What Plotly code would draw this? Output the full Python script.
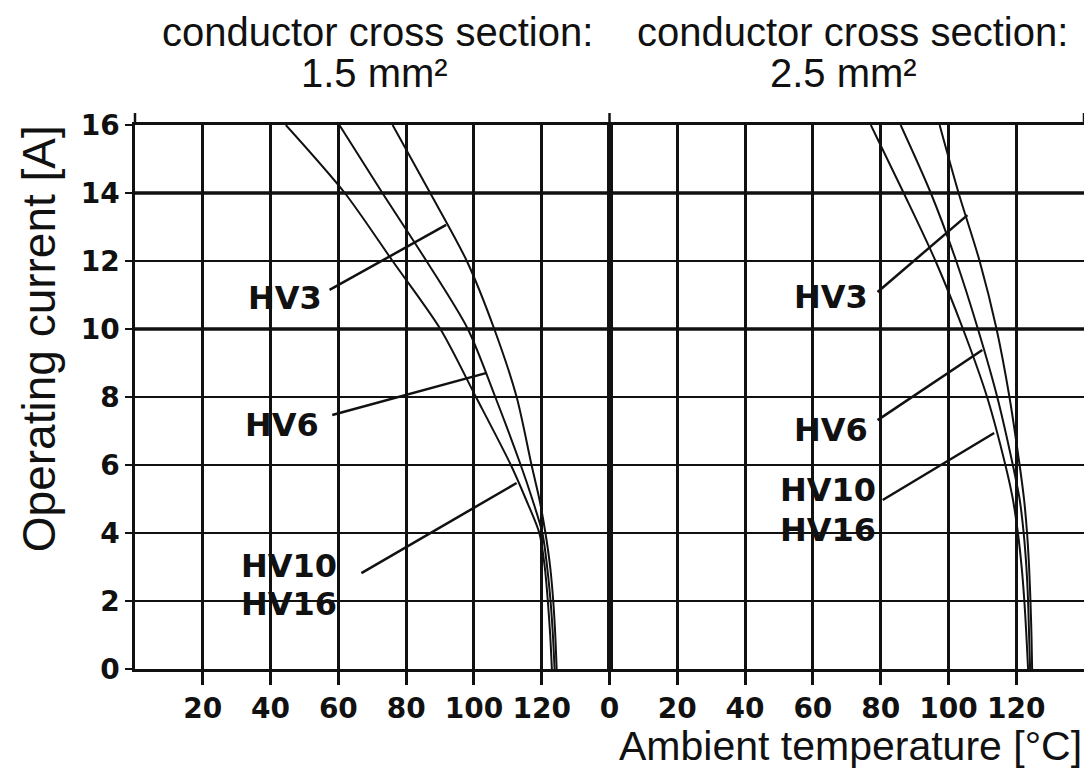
import plotly.graph_objects as go

# ---------------- data ----------------
# current levels at which the temperatures were read [A]
cur_levels = [16, 14, 12, 10, 8, 6, 5, 4, 3, 2, 1, 0]

# 1.5 mm² panel (left): ambient temperature [°C] at each current level
l_hv3_t = [76.0, 87.1, 97.9, 106.0, 112.6, 117.0, 119.3, 121.1, 122.5, 123.4, 124.0, 124.4]
l_hv6_t = [60.3, 73.0, 86.0, 98.2, 106.3, 113.8, 117.2, 120.2, 121.6, 122.6, 123.3, 123.8]
l_hv10_t = [44.5, 61.9, 76.0, 90.1, 100.6, 110.9, 115.3, 119.3, 120.9, 121.8, 122.5, 123.0]

# 2.5 mm² panel (right)
r_hv3_t = [97.4, 103.0, 109.2, 114.2, 118.0, 121.0, 122.3, 123.2, 123.8, 124.2, 124.5, 124.7]
r_hv6_t = [85.9, 94.8, 102.3, 108.7, 114.4, 119.0, 121.0, 122.2, 123.0, 123.5, 123.8, 124.1]
r_hv10_t = [77.1, 86.8, 96.2, 104.3, 111.4, 116.8, 119.0, 120.5, 121.6, 122.4, 123.0, 123.5]

# leader lines (temperature, current) start -> end
l_lead_hv3 = ([57.4, 91.8], [11.15, 13.06])
l_lead_hv6 = ([58.2, 103.8], [7.47, 8.71])
l_lead_hv10 = ([66.8, 112.6], [2.82, 5.47])
r_lead_hv3 = ([79.1, 105.6], [11.09, 13.35])
r_lead_hv6 = ([79.1, 110.0], [7.32, 9.38])
r_lead_hv10 = ([80.6, 113.5], [4.97, 6.94])

# labels: (text, temperature of right edge, current)
l_labels = [("HV3", 55.9, 10.9), ("HV6", 55.0, 7.18), ("HV10", 60.3, 3.03), ("HV16", 60.3, 1.91)]
r_labels = [("HV3", 76.8, 10.94), ("HV6", 76.8, 7.03), ("HV10", 79.1, 5.26), ("HV16", 79.1, 4.09)]

left_ticks = [20, 40, 60, 80, 100, 120]
right_ticks = [0, 20, 40, 60, 80, 100, 120]
y_ticks = [0, 2, 4, 6, 8, 10, 12, 14, 16]
thick_y = [10, 14]

title_left = ["conductor cross section:", "1.5 mm²"]
title_right = ["conductor cross section:", "2.5 mm²"]

# ---------------- figure ----------------
INK = "#111111"
fig = go.Figure()

def curve(t, xa, ya):
    fig.add_trace(go.Scatter(x=t, y=cur_levels, mode="lines", xaxis=xa, yaxis=ya,
                             line=dict(color=INK, width=2, shape="spline", smoothing=0.8),
                             showlegend=False, hoverinfo="skip"))

for t in [l_hv3_t, l_hv6_t, l_hv10_t]:
    curve(t, "x", "y")
for t in [r_hv3_t, r_hv6_t, r_hv10_t]:
    curve(t, "x2", "y2")

def leader(ld, xa, ya):
    fig.add_trace(go.Scatter(x=ld[0], y=ld[1], mode="lines", xaxis=xa, yaxis=ya,
                             line=dict(color=INK, width=2.5),
                             showlegend=False, hoverinfo="skip"))

for ld in [l_lead_hv3, l_lead_hv6, l_lead_hv10]:
    leader(ld, "x", "y")
for ld in [r_lead_hv3, r_lead_hv6, r_lead_hv10]:
    leader(ld, "x2", "y2")

annotations = []
lab_font = dict(family="DejaVu Sans", size=32, color=INK, weight="bold")
for txt, tx, cy in l_labels:
    annotations.append(dict(text=txt, x=tx, y=cy, xref="x", yref="y", xanchor="right",
                            yanchor="middle", showarrow=False, font=lab_font))
for txt, tx, cy in r_labels:
    annotations.append(dict(text=txt, x=tx, y=cy, xref="x2", yref="y2", xanchor="right",
                            yanchor="middle", showarrow=False, font=lab_font))

tfont = dict(family="Liberation Sans", size=40, color=INK)
annotations += [
    dict(text=title_left[0], x=0.2558, y=1.171, xref="paper", yref="paper", showarrow=False,
         xanchor="center", yanchor="middle", font=tfont),
    dict(text=title_left[1], x=0.2521, y=1.095, xref="paper", yref="paper", showarrow=False,
         xanchor="center", yanchor="middle", font=tfont),
    dict(text=title_right[0], x=0.7563, y=1.171, xref="paper", yref="paper", showarrow=False,
         xanchor="center", yanchor="middle", font=tfont),
    dict(text=title_right[1], x=0.7468, y=1.095, xref="paper", yref="paper", showarrow=False,
         xanchor="center", yanchor="middle", font=tfont),
    dict(text="Operating current [A]", x=-0.101, y=0.6066, xref="paper", yref="paper",
         showarrow=False, textangle=-90, xanchor="center", yanchor="middle",
         font=dict(family="Liberation Sans", size=46, color=INK)),
    dict(text="Ambient temperature [°C]", x=1.0, y=-0.141, xref="paper", yref="paper",
         showarrow=False, xanchor="right", yanchor="middle",
         font=dict(family="Liberation Sans", size=41, color=INK)),
]

shapes = []
for yv in thick_y:
    shapes.append(dict(type="line", xref="paper", yref="y", x0=0, x1=1, y0=yv, y1=yv,
                       line=dict(color=INK, width=3.5)))
for xp in [0, 0.5, 1]:
    shapes.append(dict(type="line", xref="paper", yref="paper", x0=xp, x1=xp, y0=1, y1=1.022,
                       line=dict(color=INK, width=2.5)))

tickfont = dict(family="DejaVu Sans", size=28, color=INK, weight="bold")
xcommon = dict(range=[0, 140], ticks="outside", ticklen=13, tickwidth=2.5, tickcolor=INK,
               showgrid=True, gridcolor=INK, gridwidth=2.5, showline=True, linecolor=INK,
               linewidth=2.5, mirror=True, zeroline=False, tickfont=tickfont, fixedrange=True)
ycommon = dict(range=[0, 16], showgrid=True, gridcolor=INK, gridwidth=2, showline=True,
               linecolor=INK, linewidth=2.5, mirror=True, zeroline=False, tickvals=y_ticks,
               fixedrange=True)

# the page body adds an 8px margin, so the figure is 8px smaller than the window
fig.update_layout(
    width=1084, height=766,
    margin=dict(l=127, r=5, t=117, b=105),
    paper_bgcolor="white", plot_bgcolor="white",
    xaxis=dict(domain=[0, 0.5], tickvals=left_ticks, anchor="y", **xcommon),
    xaxis2=dict(domain=[0.5, 1], tickvals=right_ticks, anchor="y2", **xcommon),
    yaxis=dict(anchor="x", ticks="outside", ticklen=7, tickwidth=2, tickcolor=INK,
               tickfont=tickfont, **ycommon),
    yaxis2=dict(anchor="x2", matches="y", ticks="", showticklabels=False, **ycommon),
    annotations=annotations,
    shapes=shapes,
    showlegend=False,
)

fig.write_html("out.html")
